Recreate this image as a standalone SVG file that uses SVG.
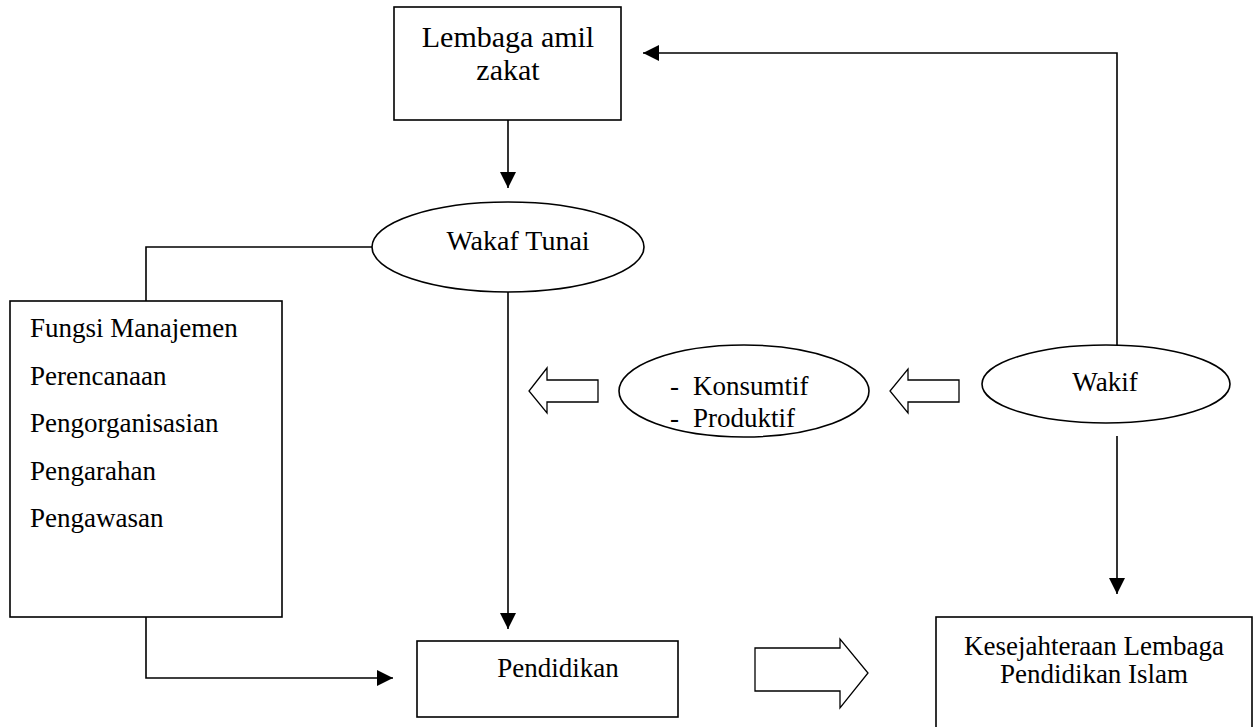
<svg xmlns="http://www.w3.org/2000/svg" width="1254" height="727" viewBox="0 0 1254 727">
<style>
.box{fill:#fff;stroke:#000;stroke-width:1.6}
.ln{fill:none;stroke:#000;stroke-width:1.6}
.blk{fill:#fff;stroke:#000;stroke-width:1.3}
text{font-family:"Liberation Serif","Times New Roman",serif;font-size:27px;fill:#000}
.c{text-anchor:middle}
.big{font-size:30px}
</style>
<defs>
<marker id="ah" markerUnits="userSpaceOnUse" markerWidth="16" markerHeight="16" viewBox="0 0 16 16" refX="16" refY="8" orient="auto">
<path d="M0,0 L16,8 L0,16 Z" fill="#000"/>
</marker>
</defs>
<rect width="1254" height="727" fill="#fff"/>
<g id="connectors">
<line class="ln" x1="508" y1="120" x2="508" y2="188" marker-end="url(#ah)"/>
<polyline class="ln" points="1117,345 1117,53 643,53" marker-end="url(#ah)"/>
<polyline class="ln" points="372,247 146,247 146,301"/>
<line class="ln" x1="508" y1="292" x2="508" y2="629" marker-end="url(#ah)"/>
<polyline class="ln" points="146,617 146,678 393,678" marker-end="url(#ah)"/>
<line class="ln" x1="1117" y1="436" x2="1117" y2="594" marker-end="url(#ah)"/>
<polygon class="blk" points="598,380 547,380 547,368 529,391 547,413 547,402 598,402"/>
<polygon class="blk" points="959,380 908,380 908,369 890,391 908,413 908,402 959,402"/>
<polygon class="blk" points="755,648 840,648 840,639 868,673 840,708 840,691 755,691"/>
</g>
<g id="lembaga">
<rect class="box" x="394" y="7" width="227" height="113"/>
<text class="c big" x="508" y="47">Lembaga amil</text>
<text class="c big" x="508" y="80">zakat</text>
</g>
<g id="wakaf-tunai">
<ellipse class="box" cx="508" cy="247" rx="136" ry="45"/>
<text class="c" x="518" y="250" style="font-size:28px">Wakaf Tunai</text>
</g>
<g id="fungsi">
<rect class="box" x="10" y="301" width="272" height="316"/>
<text x="30" y="337">Fungsi Manajemen</text>
<text x="30" y="385">Perencanaan</text>
<text x="30" y="432">Pengorganisasian</text>
<text x="30" y="480">Pengarahan</text>
<text x="30" y="527">Pengawasan</text>
</g>
<g id="jenis">
<ellipse class="box" cx="744" cy="391" rx="125" ry="46"/>
<text x="670" y="395">-</text>
<text x="693" y="395">Konsumtif</text>
<text x="670" y="427">-</text>
<text x="693" y="427">Produktif</text>
</g>
<g id="wakif">
<ellipse class="box" cx="1106" cy="384" rx="124" ry="39"/>
<text class="c" x="1105" y="391">Wakif</text>
</g>
<g id="pendidikan">
<rect class="box" x="417" y="641" width="261" height="76"/>
<text class="c" x="558" y="677">Pendidikan</text>
</g>
<g id="kesejahteraan">
<rect class="box" x="936" y="617" width="316" height="112"/>
<text class="c" x="1094" y="655">Kesejahteraan Lembaga</text>
<text class="c" x="1094" y="683">Pendidikan Islam</text>
</g>
</svg>
